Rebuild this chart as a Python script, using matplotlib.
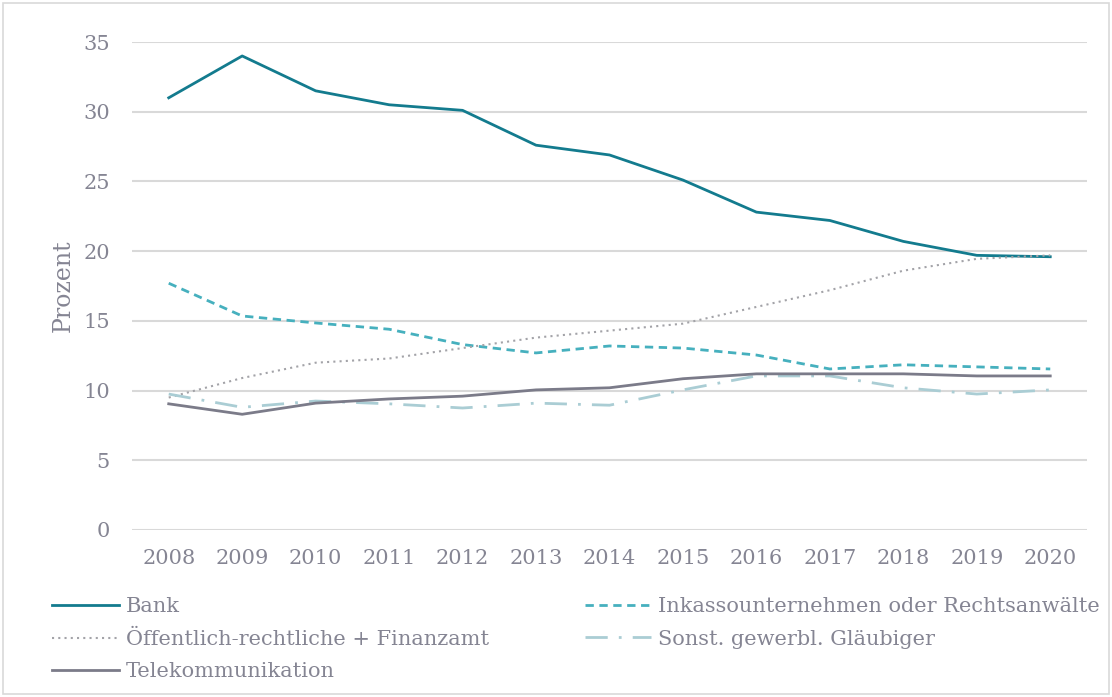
import matplotlib
matplotlib.use("Agg")
import matplotlib.pyplot as plt
from matplotlib.patches import Rectangle

years = list(range(2008, 2021))

bank = [31.0, 34.0, 31.5, 30.5, 30.1, 27.6, 26.9, 25.1, 22.8, 22.2, 20.7, 19.7, 19.6]
inkasso = [17.7, 15.35, 14.85, 14.4, 13.3, 12.7, 13.2, 13.05, 12.55, 11.55, 11.85, 11.7, 11.55]
oeffentlich = [9.5, 10.9, 12.0, 12.3, 13.05, 13.8, 14.3, 14.8, 16.0, 17.2, 18.6, 19.45, 19.7]
sonst = [9.75, 8.8, 9.25, 9.05, 8.75, 9.1, 8.95, 10.05, 11.05, 11.05, 10.2, 9.75, 10.05]
telekom = [9.05, 8.3, 9.1, 9.4, 9.6, 10.05, 10.2, 10.85, 11.2, 11.2, 11.2, 11.05, 11.05]

yticks = [0, 5, 10, 15, 20, 25, 30, 35]

txt_color = "#858593"
plt.rcParams['font.family'] = ['DejaVu Serif']

fig = plt.figure(figsize=(11.12, 6.97), dpi=100)
ax = fig.add_axes([0.1187, 0.2396, 0.8588, 0.7001])

l_bank, = ax.plot(years, bank, color="#137b8e", lw=2.0, label="Bank")
l_ink, = ax.plot(years, inkasso, color="#46b0be", lw=2.0, ls=(0, (3, 2)),
                 label="Inkassounternehmen oder Rechtsanwälte")
l_oef, = ax.plot(years, oeffentlich, color="#a3a3a8", lw=1.5, ls=(0, (1, 2)),
                 label="Öffentlich-rechtliche + Finanzamt")
l_son, = ax.plot(years, sonst, color="#aacdd4", lw=2.0, ls=(0, (8, 4, 1, 4)),
                 label="Sonst. gewerbl. Gläubiger")
l_tel, = ax.plot(years, telekom, color="#7b7b89", lw=2.0, label="Telekommunikation")

ax.set_xlim(2007.5, 2020.5)
ax.set_ylim(0, 35)
ax.set_yticks(yticks)
ax.set_xticks(years)
ax.grid(axis="y", color="#d9d9d9", lw=1.5)
ax.set_axisbelow(True)
for s in ax.spines.values():
    s.set_visible(False)
ax.tick_params(length=0, labelsize=15, colors=txt_color)
ax.tick_params(axis="x", pad=14)
ax.tick_params(axis="y", pad=16)
ax.set_ylabel("Prozent", fontsize=17, color=txt_color, labelpad=6)

handles = [l_bank, l_oef, l_tel, l_ink, l_son]
fig.legend(handles=handles, labels=[h.get_label() for h in handles],
           ncol=2, loc="upper left", bbox_to_anchor=(0.047, 0.143),
           frameon=False, fontsize=15, labelcolor=txt_color,
           handlelength=3.2, handletextpad=0.33, columnspacing=4.6,
           labelspacing=0.64, borderaxespad=0, borderpad=0)

fig.patches.append(Rectangle((0.003, 0.005), 0.994, 0.99, transform=fig.transFigure,
                             fill=False, edgecolor="#d9d9d9", lw=1.2))

fig.savefig("out.png", dpi=100)
